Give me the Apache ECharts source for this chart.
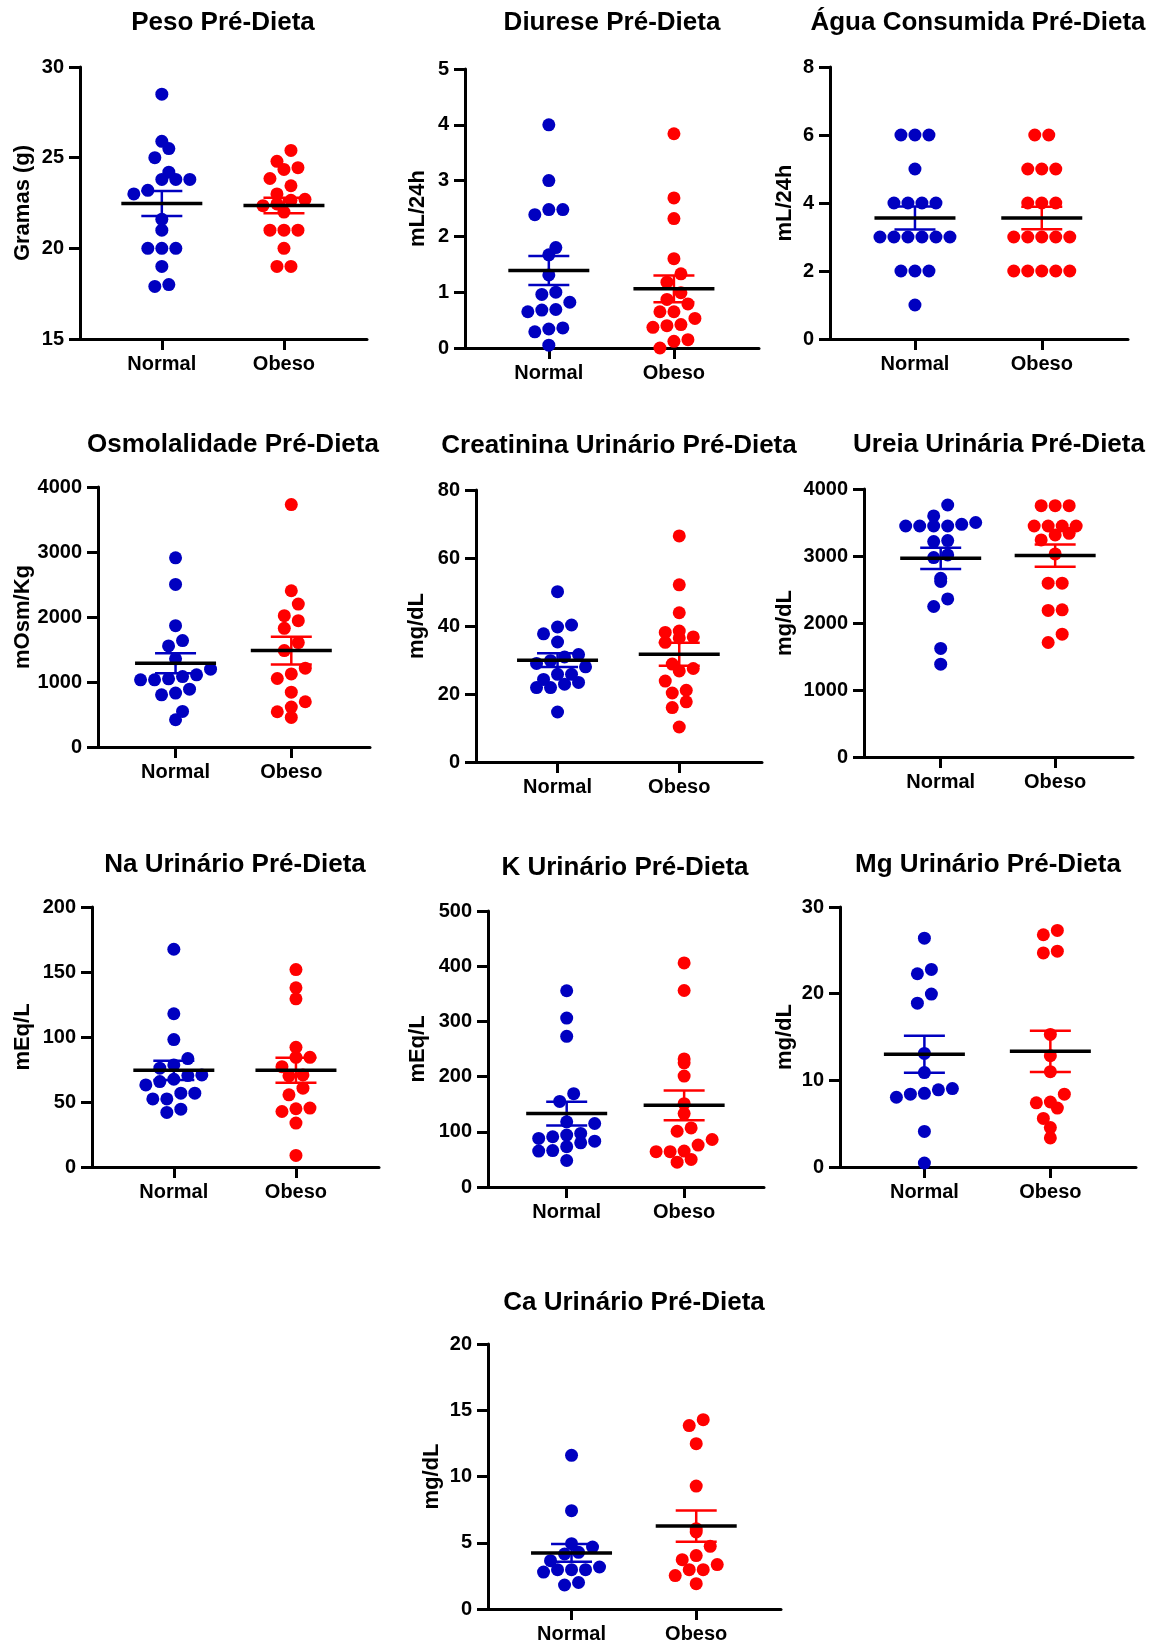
<!DOCTYPE html>
<html>
<head>
<meta charset="utf-8">
<script src="https://cdn.jsdelivr.net/npm/echarts@6.0.0/dist/echarts.min.js"></script>
<style>
  html, body { margin: 0; padding: 0; background: #fff; }
  #chart { width: 1161px; height: 1647px; }
</style>
</head>
<body>
<div id="chart"></div>
<script>
// grupos
const groups = ['Normal', 'Obeso'];
const groupColors = ['#0000c0', '#ff0000'];

// Peso
const pesoNormal = [28.5, 25.9, 25.5, 25.0, 24.2, 23.8, 23.8, 23.8, 23.2, 23.0, 21.6, 21.0, 20.0, 20.0, 20.0, 19.0, 18.0, 17.9];
const pesoObeso = [25.4, 24.8, 24.45, 24.35, 23.85, 23.45, 23.0, 22.7, 22.65, 22.45, 22.35, 22.0, 21.0, 21.0, 21.0, 20.0, 19.0, 19.0];
const pesoMean = [22.47, 22.36];
const pesoSem = [0.69, 0.43];

// Diurese
const diureseNormal = [4.0, 3.0, 2.48, 2.48, 2.39, 1.8, 1.67, 1.31, 1.0, 0.96, 0.82, 0.69, 0.68, 0.65, 0.36, 0.34, 0.29, 0.05];
const diureseObeso = [3.84, 2.69, 2.32, 1.6, 1.33, 1.18, 0.99, 0.87, 0.79, 0.65, 0.65, 0.53, 0.42, 0.40, 0.37, 0.15, 0.12, 0.0];
const diureseMean = [1.39, 1.06];
const diureseSem = [0.26, 0.24];

// Agua consumida
const aguaNormal = [6, 6, 6, 5, 4, 4, 4, 4, 3, 3, 3, 3, 3, 3, 2, 2, 2, 1];
const aguaObeso = [6, 6, 5, 5, 5, 4, 4, 4, 3, 3, 3, 3, 3, 2, 2, 2, 2, 2];
const aguaMean = [3.56, 3.56];
const aguaSem = [0.34, 0.33];

// Osmolalidade
const osmoNormal = [2910, 2501, 1867, 1637, 1555, 1356, 1197, 1110, 1084, 1049, 1033, 1033, 890, 829, 803, 547, 419];
const osmoObeso = [3729, 2404, 2199, 2020, 1944, 1826, 1606, 1483, 1212, 1125, 1054, 844, 696, 614, 542, 455];
const osmoMean = [1289, 1483];
const osmoSem = [154, 215];

// Creatinina
const creatNormal = [50.1, 40.3, 39.7, 37.7, 35.3, 31.6, 30.9, 29.8, 29.0, 28.0, 25.8, 25.8, 24.3, 23.4, 22.9, 21.9, 21.9, 14.7];
const creatObeso = [66.5, 52.1, 43.9, 38.5, 38.1, 36.8, 36.5, 35.2, 28.8, 27.5, 26.8, 23.8, 21.1, 20.3, 17.7, 16.0, 10.3];
const creatMean = [29.95, 31.7];
const creatSem = [2.0, 3.4];

// Ureia
const ureiaNormal = [3761, 3598, 3500, 3473, 3448, 3448, 3448, 3448, 3230, 3215, 3016, 2976, 2668, 2619, 2360, 2246, 1620, 1386];
const ureiaObeso = [3751, 3751, 3751, 3448, 3448, 3448, 3448, 3339, 3314, 3240, 3031, 2594, 2594, 2197, 2187, 1833, 1709];
const ureiaMean = [2966, 3006];
const ureiaSem = [159, 167];

// Na
const naNormal = [167.5, 117.9, 98.0, 83.4, 78.5, 76.0, 70.8, 70.3, 67.5, 65.7, 63.1, 56.8, 56.8, 52.4, 52.4, 44.5, 42.0];
const naObeso = [151.9, 137.9, 129.4, 92.1, 84.4, 84.4, 77.2, 70.8, 70.1, 60.6, 55.5, 45.3, 44.8, 42.7, 33.8, 8.9];
const naMean = [74.4, 74.4];
const naSem = [7.4, 9.6];

// K
const kNormal = [355.5, 306, 273, 169, 155, 118, 115, 97, 94, 91, 88, 83, 80, 73, 66, 65, 48];
const kObeso = [406, 356, 232, 225, 201, 151, 133, 107, 101, 86, 76, 65, 64, 64, 50, 45];
const kMean = [133, 148];
const kSem = [21.6, 27];

// Mg
const mgNormal = [26.4, 22.8, 22.3, 19.95, 18.9, 13.1, 10.9, 9.05, 8.9, 8.5, 8.4, 8.05, 4.1, 0.46];
const mgObeso = [27.3, 26.8, 24.9, 24.7, 15.3, 12.85, 11.0, 8.4, 7.5, 7.4, 6.8, 5.6, 4.55, 3.35];
const mgMean = [13.0, 13.35];
const mgSem = [2.13, 2.38];

// Ca
const caNormal = [11.6, 7.42, 4.93, 4.68, 4.28, 4.15, 3.65, 3.17, 2.97, 2.97, 2.97, 2.79, 2.0, 1.81];
const caObeso = [14.29, 13.84, 12.48, 9.28, 6.06, 5.81, 4.73, 4.03, 3.72, 3.35, 2.97, 2.97, 2.52, 1.91];
const caMean = [4.23, 6.26];
const caSem = [0.67, 1.18];

const FONT = '"Liberation Sans", Arial, sans-serif';
const X_MIN = 0.33, X_MAX = 2.68;
const DOT = 13, GAP = 14, ROW = 16;

// box = [left, top, width, height] do grid; head = centro do titulo
const panels = [
  { title: 'Peso Pré-Dieta', name: 'Gramas (g)', sets: [pesoNormal, pesoObeso], mean: pesoMean, sem: pesoSem, min: 15, max: 30, step: 5, box: [80, 67, 287, 272], nameGap: 46, head: [223, 23] },
  { title: 'Diurese Pré-Dieta', name: 'mL/24h', sets: [diureseNormal, diureseObeso], mean: diureseMean, sem: diureseSem, min: 0, max: 5, step: 1, box: [465, 69, 294, 279], nameGap: 36, head: [612, 23] },
  { title: 'Água Consumida Pré-Dieta', name: 'mL/24h', sets: [aguaNormal, aguaObeso], mean: aguaMean, sem: aguaSem, min: 0, max: 8, step: 2, box: [830, 67, 298, 272], nameGap: 34, head: [978, 23] },
  { title: 'Osmolalidade Pré-Dieta', name: 'mOsm/Kg', sets: [osmoNormal, osmoObeso], mean: osmoMean, sem: osmoSem, min: 0, max: 4000, step: 1000, box: [98, 487, 272, 260], nameGap: 64, head: [233, 445] },
  { title: 'Creatinina Urinário Pré-Dieta', name: 'mg/dL', sets: [creatNormal, creatObeso], mean: creatMean, sem: creatSem, min: 0, max: 80, step: 20, box: [476, 490, 286, 272], nameGap: 48, head: [619, 446] },
  { title: 'Ureia Urinária Pré-Dieta', name: 'mg/dL', sets: [ureiaNormal, ureiaObeso], mean: ureiaMean, sem: ureiaSem, min: 0, max: 4000, step: 1000, box: [864, 489, 269, 268], nameGap: 68, head: [999, 445] },
  { title: 'Na Urinário Pré-Dieta', name: 'mEq/L', sets: [naNormal, naObeso], mean: naMean, sem: naSem, min: 0, max: 200, step: 50, box: [92, 907, 287, 260], nameGap: 58, head: [235, 865] },
  { title: 'K Urinário Pré-Dieta', name: 'mEq/L', sets: [kNormal, kObeso], mean: kMean, sem: kSem, min: 0, max: 500, step: 100, box: [488, 911, 276, 276], nameGap: 59, head: [625, 868] },
  { title: 'Mg Urinário Pré-Dieta', name: 'mg/dL', sets: [mgNormal, mgObeso], mean: mgMean, sem: mgSem, min: 0, max: 30, step: 10, box: [840, 907, 296, 260], nameGap: 44, head: [988, 865] },
  { title: 'Ca Urinário Pré-Dieta', name: 'mg/dL', sets: [caNormal, caObeso], mean: caMean, sem: caSem, min: 0, max: 20, step: 5, box: [488, 1344, 293, 265], nameGap: 45, head: [634, 1303] }
];

// pontos em linhas (como o Prism): cada faixa fica centrada no grupo
function rows(values, min, pxPerUnit) {
  const bins = {};
  values.forEach((v, i) => {
    const b = Math.floor((v - min) * pxPerUnit / ROW);
    (bins[b] = bins[b] || []).push(i);
  });
  const out = new Array(values.length);
  const placed = [];
  Object.keys(bins).map(Number).sort((a, b) => a - b).forEach(b => {
    const ids = bins[b].sort((i, j) => values[i] - values[j]);
    const n = ids.length;
    let best = null;
    [0, GAP / 2, -GAP / 2].forEach(shift => {
      let hits = 0;
      ids.forEach((id, k) => {
        const x = (k - (n - 1) / 2) * GAP + shift;
        const y = (values[id] - min) * pxPerUnit;
        placed.forEach(p => { if (Math.hypot(p.x - x, p.y - y) < DOT * 0.7) hits++; });
      });
      if (!best || hits < best.hits) best = { shift: shift, hits: hits };
    });
    ids.forEach((id, k) => {
      const x = (k - (n - 1) / 2) * GAP + best.shift;
      out[id] = x;
      placed.push({ x: x, y: (values[id] - min) * pxPerUnit });
    });
  });
  return out;
}

const grid = [], xAxis = [], yAxis = [], series = [], graphic = [];

panels.forEach((p, gi) => {
  const [left, top, width, height] = p.box;
  grid.push({ left: left, top: top, width: width, height: height, containLabel: false });

  xAxis.push({
    gridIndex: gi, type: 'value', min: X_MIN, max: X_MAX,
    axisLine: { onZero: false, lineStyle: { color: '#000', width: 3 } },
    axisTick: { show: true, customValues: [1, 2], length: 11, lineStyle: { color: '#000', width: 3 } },
    axisLabel: {
      customValues: [1, 2], margin: 15, color: '#000', fontSize: 20, fontWeight: 'bold', fontFamily: FONT,
      formatter: v => groups[Math.round(v) - 1] || ''
    },
    splitLine: { show: false }
  });

  yAxis.push({
    gridIndex: gi, type: 'value', min: p.min, max: p.max, interval: p.step,
    name: p.name, nameLocation: 'middle', nameRotate: 90, nameGap: p.nameGap,
    nameTextStyle: { color: '#000', fontSize: 22, fontWeight: 'bold', fontFamily: FONT },
    axisLine: { show: true, lineStyle: { color: '#000', width: 3 } },
    axisTick: { show: true, length: 11, lineStyle: { color: '#000', width: 3 } },
    axisLabel: {
      margin: 16, color: '#000', fontSize: 20, fontWeight: 'bold', fontFamily: FONT,
      formatter: v => String(v)
    },
    splitLine: { show: false }
  });

  const pxPerUnit = height / (p.max - p.min);
  const unitsPerPx = (X_MAX - X_MIN) / width;

  p.sets.forEach((vals, s) => {
    const off = rows(vals, p.min, pxPerUnit);
    series.push({
      type: 'scatter', xAxisIndex: gi, yAxisIndex: gi, name: groups[s],
      symbol: 'circle', symbolSize: DOT, silent: true, z: 2,
      itemStyle: { color: groupColors[s], opacity: 1 },
      data: vals.map((v, i) => [s + 1 + off[i] * unitsPerPx, v])
    });
  });

  // media +- EPM
  series.push({
    type: 'custom', xAxisIndex: gi, yAxisIndex: gi, silent: true, z: 5,
    encode: { x: 0, y: 1 },
    data: p.mean.map((m, s) => [s + 1, m, p.sem[s]]),
    renderItem: (params, api) => {
      const x = api.value(0), m = api.value(1), e = api.value(2);
      const c = api.coord([x, m]);
      const hi = api.coord([x, m + e]);
      const lo = api.coord([x, m - e]);
      const col = groupColors[params.dataIndex];
      const st = { stroke: col, lineWidth: 2.5 };
      return {
        type: 'group',
        children: [
          { type: 'line', shape: { x1: c[0], y1: hi[1], x2: c[0], y2: lo[1] }, style: st },
          { type: 'line', shape: { x1: c[0] - 20.5, y1: hi[1], x2: c[0] + 20.5, y2: hi[1] }, style: st },
          { type: 'line', shape: { x1: c[0] - 20.5, y1: lo[1], x2: c[0] + 20.5, y2: lo[1] }, style: st },
          { type: 'line', shape: { x1: c[0] - 40.5, y1: c[1], x2: c[0] + 40.5, y2: c[1] }, style: { stroke: '#000', lineWidth: 3.5 } }
        ]
      };
    }
  });

  graphic.push({
    type: 'text', x: p.head[0], y: p.head[1],
    style: {
      text: p.title, fill: '#000', font: 'bold 26px ' + FONT,
      textAlign: 'center', textVerticalAlign: 'middle'
    }
  });
});

const chart = echarts.init(document.getElementById('chart'));
chart.setOption({
  animation: false,
  backgroundColor: '#fff',
  grid: grid,
  xAxis: xAxis,
  yAxis: yAxis,
  series: series,
  graphic: graphic
});
</script>
</body>
</html>
